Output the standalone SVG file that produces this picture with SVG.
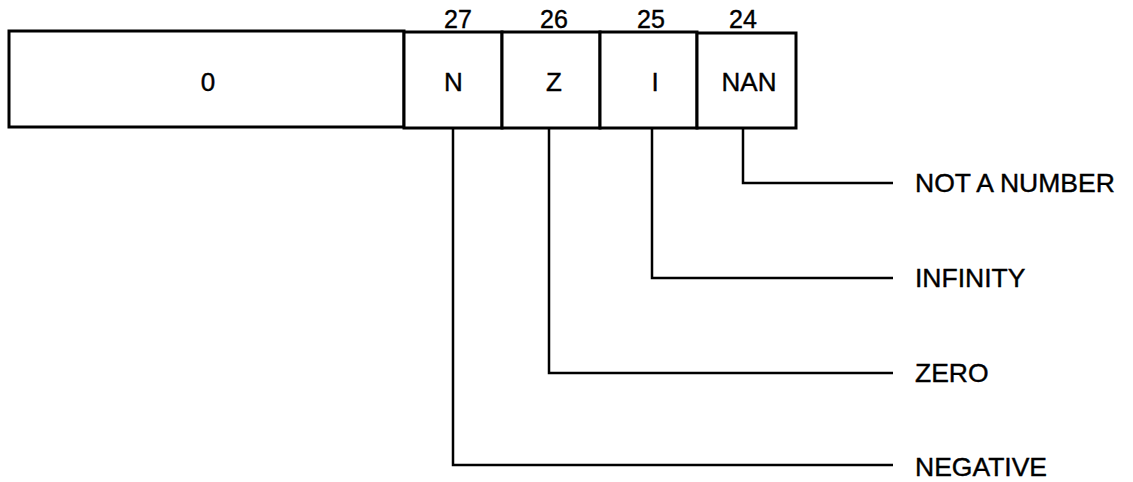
<svg xmlns="http://www.w3.org/2000/svg" width="1133" height="482" viewBox="0 0 1133 482">
<style>
.box{fill:#fff;stroke:#000;stroke-width:3}
.ln{fill:none;stroke:#000;stroke-width:2.5}
text{font-family:"Liberation Sans",Arial,sans-serif;fill:#000;stroke:#000;stroke-width:0.4}
.c{font-size:26px;text-anchor:middle}
.b{font-size:25px;text-anchor:middle}
.l{font-size:26.5px}
</style>
<rect width="1133" height="482" fill="#fff"/>
<g id="register">
<g id="cell-0"><rect class="box" x="9" y="31" width="395" height="96"/><text class="c" x="208" y="91">0</text></g>
<g id="cell-N"><rect class="box" x="404" y="32" width="98" height="96"/><text class="c" x="453.5" y="91">N</text><text class="b" x="458" y="28">27</text></g>
<g id="cell-Z"><rect class="box" x="502" y="32" width="98" height="96"/><text class="c" x="554" y="91">Z</text><text class="b" x="554" y="28">26</text></g>
<g id="cell-I"><rect class="box" x="600" y="32" width="97" height="96"/><text class="c" x="655" y="91">I</text><text class="b" x="651" y="28">25</text></g>
<g id="cell-NAN"><rect class="box" x="697" y="33" width="99" height="95"/><text class="c" x="749" y="91">NAN</text><text class="b" x="743" y="28">24</text></g>
</g>
<g id="connectors">
<path class="ln" d="M743 128V183H893"/>
<path class="ln" d="M652 128V278H893"/>
<path class="ln" d="M549 128V373H893"/>
<path class="ln" d="M453 128V465H893"/>
</g>
<g id="label-nan"><text class="l" x="915" y="192">NOT A NUMBER</text></g>
<g id="label-inf"><text class="l" x="915" y="287">INFINITY</text></g>
<g id="label-zero"><text class="l" x="915" y="382">ZERO</text></g>
<g id="label-neg"><text class="l" x="915" y="476">NEGATIVE</text></g>
</svg>
